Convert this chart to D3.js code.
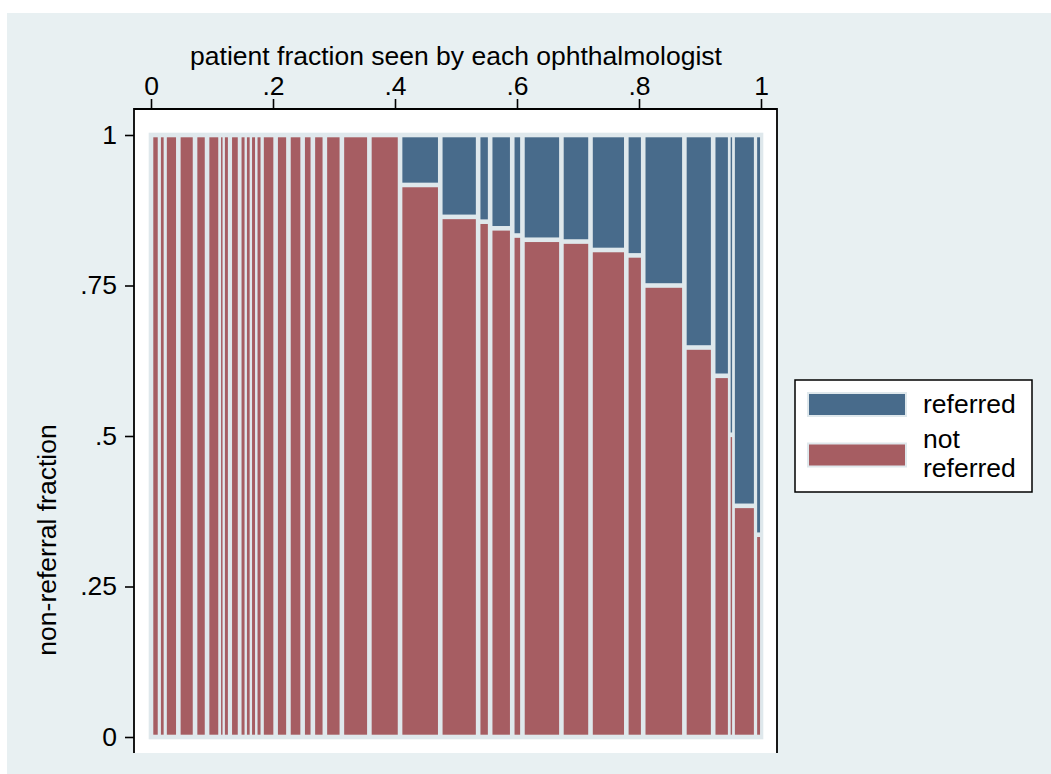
<!DOCTYPE html>
<html>
<head>
<meta charset="utf-8">
<script src="https://cdnjs.cloudflare.com/ajax/libs/d3/7.8.5/d3.min.js"></script>
<style>
  body { margin: 0; background: #fff; }
  text { font-family: "Liberation Sans", Arial, Helvetica, sans-serif; fill: #000; }
</style>
</head>
<body>
<div class="graph"></div>
<script>
// one entry per ophthalmologist, ordered as in the plot
var doctors = d3.range(1, 37);
// share of all patients seen by each ophthalmologist (bar widths)
var patientShare = [0.0148, 0.0074, 0.0226, 0.0274, 0.0197, 0.0221, 0.0041, 0.0110, 0.0169,
    0.0098, 0.0074, 0.0098, 0.0082, 0.0231, 0.0210, 0.0233, 0.0167, 0.0197, 0.0279, 0.0451,
    0.0503, 0.0659, 0.0621, 0.0197, 0.0362, 0.0167, 0.0639, 0.0477, 0.0587, 0.0277, 0.0675,
    0.0472, 0.0279, 0.0039, 0.0387, 0.0079];
// fraction of that ophthalmologist's patients not referred
var notReferred = [1, 1, 1, 1, 1, 1, 1, 1, 1, 1, 1, 1, 1, 1, 1, 1, 1, 1, 1, 1, 1,
    0.917, 0.864, 0.856, 0.845, 0.833, 0.826, 0.823, 0.809, 0.800, 0.750,
    0.647, 0.600, 0.502, 0.384, 0.336];
var xTicks = [0, 0.2, 0.4, 0.6, 0.8, 1];
var xTickLabels = ['0', '.2', '.4', '.6', '.8', '1'];
var yTicks = [0, 0.25, 0.5, 0.75, 1];
var yTickLabels = ['0', '.25', '.5', '.75', '1'];
var legendLabels = [['referred'], ['not', 'referred']];

var blue = '#486b8b', red = '#a65d62', edge = '#dfe8ec';
var fontSize = 26.5;

var svg = d3.select('.graph').append('svg')
    .attr('width', 1051)
    .attr('height', 774);

svg.append('rect')
    .attr('x', 7).attr('y', 13)
    .attr('width', 1044).attr('height', 761)
    .attr('fill', '#e8f0f2');

svg.append('rect')
    .attr('x', 134).attr('y', 109)
    .attr('width', 643).attr('height', 644)
    .attr('fill', '#fff');

var xScale = d3.scaleLinear().domain([0, 1]).range([151, 761]);
var yScale = d3.scaleLinear().domain([0, 1]).range([737, 135]);

var ends = Array.from(d3.cumsum(patientShare));
var data = doctors.map(function(d, i) {
    return { id: d, x0: i === 0 ? 0 : ends[i - 1], x1: ends[i], keep: notReferred[i] };
});

var pad = 2.3;
svg.append('rect')
    .attr('x', xScale(0) - pad).attr('y', yScale(1) - pad)
    .attr('width', xScale(1) - xScale(0) + 2 * pad)
    .attr('height', yScale(0) - yScale(1) + 2 * pad)
    .attr('fill', edge);

// visible part of a bar once the light outline has been taken off
var inner = function(d) {
    var a = xScale(d.x0), b = xScale(d.x1), w = b - a;
    var v = Math.max(w - 2 * pad, Math.min(w * 0.6, 3));
    return { x: (a + b) / 2 - v / 2, w: v };
};

var bars = svg.append('g').selectAll('g')
    .data(data)
    .enter()
    .append('g');

bars.filter(function(d) { return d.keep < 1; })
    .append('rect')
    .attr('x', function(d) { return inner(d).x; })
    .attr('width', function(d) { return inner(d).w; })
    .attr('y', yScale(1) + pad)
    .attr('height', function(d) { return yScale(d.keep) - yScale(1) - 2 * pad; })
    .attr('fill', blue);

bars.append('rect')
    .attr('x', function(d) { return inner(d).x; })
    .attr('width', function(d) { return inner(d).w; })
    .attr('y', function(d) { return yScale(d.keep) + pad; })
    .attr('height', function(d) { return yScale(0) - yScale(d.keep) - 2 * pad; })
    .attr('fill', red);

// axes
var xAxis = d3.axisTop(xScale)
    .tickValues(xTicks)
    .tickFormat(function(d, i) { return xTickLabels[i]; })
    .tickSize(9)
    .tickPadding(4);
var gx = svg.append('g').attr('transform', 'translate(0,108)').call(xAxis);

var yAxis = d3.axisLeft(yScale)
    .tickValues(yTicks)
    .tickFormat(function(d, i) { return yTickLabels[i]; })
    .tickSize(9)
    .tickPadding(8);
var gy = svg.append('g').attr('transform', 'translate(134,0)').call(yAxis);

[gx, gy].forEach(function(g) {
    g.select('.domain').remove();
    g.selectAll('line').attr('stroke', '#000').attr('stroke-width', 1.6);
    g.selectAll('text').attr('font-size', fontSize).attr('font-family', null);
});

// frame
svg.append('path')
    .attr('d', 'M134,753V109H777V753')
    .attr('fill', 'none')
    .attr('stroke', '#000')
    .attr('stroke-width', 1.8);

svg.append('text')
    .attr('x', 456).attr('y', 65)
    .attr('text-anchor', 'middle')
    .attr('font-size', fontSize)
    .text('patient fraction seen by each ophthalmologist');

svg.append('text')
    .attr('transform', 'translate(56,540) rotate(-90)')
    .attr('text-anchor', 'middle')
    .attr('font-size', fontSize)
    .text('non-referral fraction');

// legend
var legend = svg.append('g');
legend.append('rect')
    .attr('x', 795).attr('y', 380)
    .attr('width', 237).attr('height', 112)
    .attr('fill', '#fff')
    .attr('stroke', '#000')
    .attr('stroke-width', 1.5);

var items = legend.selectAll('g.item')
    .data(legendLabels)
    .enter()
    .append('g')
    .attr('class', 'item')
    .attr('transform', function(d, i) { return 'translate(0,' + (i * 50.5) + ')'; });

items.append('rect')
    .attr('x', 808).attr('y', 393)
    .attr('width', 98).attr('height', 23)
    .attr('fill', function(d, i) { return i === 0 ? blue : red; })
    .attr('stroke', edge)
    .attr('stroke-width', 2);

items.each(function(d) {
    var top = d.length === 1 ? 413 : 397.5;
    d.forEach(function(t, j) {
        d3.select(this).append('text')
            .attr('x', 923)
            .attr('y', top + j * 29)
            .attr('font-size', fontSize)
            .text(t);
    }, this);
});
</script>
</body>
</html>
